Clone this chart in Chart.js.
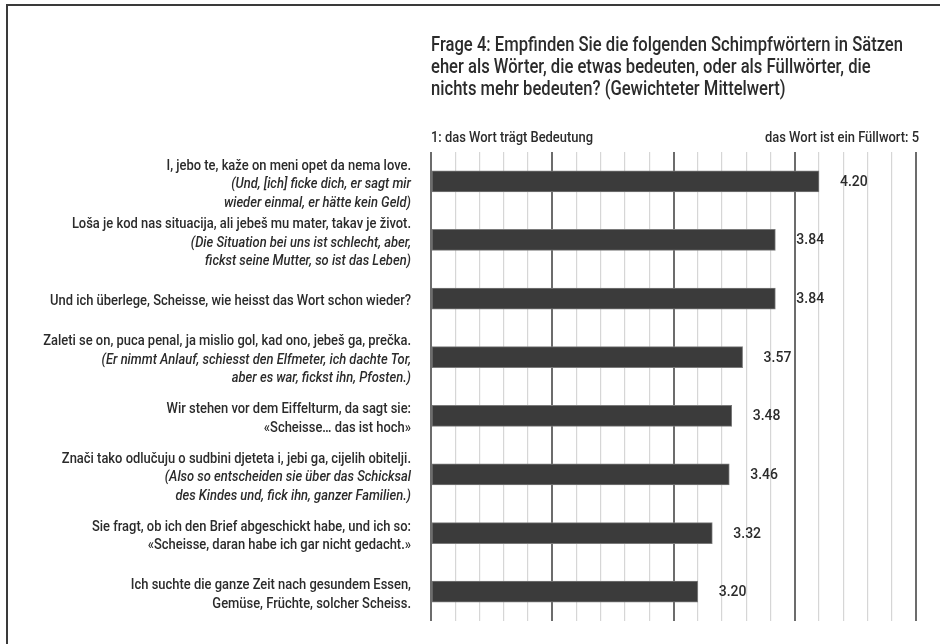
<!DOCTYPE html>
<html lang="de">
<head>
<meta charset="utf-8">
<title>Frage 4 – Schimpfwörter</title>
<script src="https://cdn.jsdelivr.net/npm/chart.js@4.4.1/dist/chart.umd.min.js"></script>
<style>
    html, body { margin: 0; padding: 0; background: #ffffff; }
    #wrap { position: relative; width: 940px; height: 644px; overflow: hidden; }
    #frame {
        position: absolute; left: 6px; top: 4px; right: -10px; bottom: -10px;
        border-top: 2px solid #3a3a3a; border-left: 2px solid #3a3a3a;
        pointer-events: none;
    }
</style>
</head>
<body>
<div id="wrap">
    <canvas id="schimpfChart" width="940" height="644"></canvas>
    <div id="frame"></div>
</div>
<script>
// Sentences (regular) and their German translations (italic), one entry per bar
const originalLines = [
    ['I, jebo te, kaže on meni opet da nema love.'],
    ['Loša je kod nas situacija, ali jebeš mu mater, takav je život.'],
    ['Und ich überlege, Scheisse, wie heisst das Wort schon wieder?'],
    ['Zaleti se on, puca penal, ja mislio gol, kad ono, jebeš ga, prečka.'],
    ['Wir stehen vor dem Eiffelturm, da sagt sie:', '«Scheisse… das ist hoch»'],
    ['Znači tako odlučuju o sudbini djeteta i, jebi ga, cijelih obitelji.'],
    ['Sie fragt, ob ich den Brief abgeschickt habe, und ich so:', '«Scheisse, daran habe ich gar nicht gedacht.»'],
    ['Ich suchte die ganze Zeit nach gesundem Essen,', 'Gemüse, Früchte, solcher Scheiss.']
];
const translationLines = [
    ['(Und, [ich] ficke dich, er sagt mir', 'wieder einmal, er hätte kein Geld)'],
    ['(Die Situation bei uns ist schlecht, aber,', 'fickst seine Mutter, so ist das Leben)'],
    [],
    ['(Er nimmt Anlauf, schiesst den Elfmeter, ich dachte Tor,', 'aber es war, fickst ihn, Pfosten.)'],
    [],
    ['(Also so entscheiden sie über das Schicksal', 'des Kindes und, fick ihn, ganzer Familien.)'],
    [],
    []
];
const categories = originalLines.map(lines => lines[0]);
const meanValues = [4.20, 3.84, 3.84, 3.57, 3.48, 3.46, 3.32, 3.20];

const titleLines = [
    'Frage 4: Empfinden Sie die folgenden Schimpfwörtern in Sätzen',
    'eher als Wörter, die etwas bedeuten, oder als Füllwörter, die',
    'nichts mehr bedeuten? (Gewichteter Mittelwert)'
];
const scaleMin = 1;
const scaleMax = 5;
const scaleStep = 0.2;
const lowEndLabel = '1: das Wort trägt Bedeutung';
const highEndLabel = 'das Wort ist ein Füllwort: 5';

const FACE = 'Roboto, "Liberation Sans", sans-serif';
const TEXT_COLOR = '#2b2b2b';

function isWholeNumber(v) {
    return Math.abs(v - Math.round(v)) < 1e-6;
}

// Roboto squeezed horizontally, used as a condensed face.
// The squeeze is chosen so a reference line ends up at a given width.
function squeezeFor(ctx, font, sample, targetWidth) {
    ctx.save();
    ctx.font = font;
    const w = ctx.measureText(sample).width;
    ctx.restore();
    return targetWidth / w;
}

function drawSqueezed(ctx, text, x, y, align, squeeze) {
    const w = ctx.measureText(text).width * squeeze;
    const left = align === 'right' ? x - w : x;
    ctx.save();
    ctx.translate(left, y);
    ctx.scale(squeeze, 1);
    ctx.textAlign = 'left';
    ctx.fillText(text, 0, 0);
    ctx.restore();
}

// Title, scale end labels, multi-line category labels and value labels
const textPlugin = {
    id: 'textPlugin',
    afterDatasetsDraw(chart) {
        const ctx = chart.ctx;
        const area = chart.chartArea;
        const yScale = chart.scales.y;
        const meta = chart.getDatasetMeta(0);

        const titleFont = '500 20px ' + FACE;
        const labelFont = '500 15px ' + FACE;
        const titleSqueeze = squeezeFor(ctx, titleFont, titleLines[0], 472);
        const labelSqueeze = squeezeFor(ctx, labelFont, categories[2], 361);

        ctx.save();
        ctx.fillStyle = TEXT_COLOR;

        // title
        ctx.font = titleFont;
        ctx.textBaseline = 'alphabetic';
        titleLines.forEach((line, i) => {
            drawSqueezed(ctx, line, area.left, 51 + i * 22, 'left', titleSqueeze);
        });

        // scale end captions
        ctx.font = labelFont;
        drawSqueezed(ctx, lowEndLabel, area.left, 142, 'left', labelSqueeze);
        drawSqueezed(ctx, highEndLabel, area.right + 3, 142, 'right', labelSqueeze);

        // category labels: original sentence regular, translation italic
        const lineHeight = 18.5;
        ctx.textBaseline = 'middle';
        categories.forEach((cat, i) => {
            const lines = originalLines[i].map(t => ({ text: t, italic: false }))
                .concat(translationLines[i].map(t => ({ text: t, italic: true })));
            const yCenter = yScale.getPixelForValue(i) + 3;
            const yStart = yCenter - (lines.length - 1) * lineHeight / 2;
            lines.forEach((ln, j) => {
                ctx.font = (ln.italic ? 'italic ' : '') + labelFont;
                drawSqueezed(ctx, ln.text, area.left - 20, yStart + j * lineHeight, 'right', labelSqueeze);
            });
        });

        // values next to the bars
        ctx.font = '500 14px ' + FACE;
        ctx.textAlign = 'left';
        meta.data.forEach((bar, i) => {
            ctx.fillText(meanValues[i].toFixed(2), bar.x + 21, bar.y + 1);
        });

        ctx.restore();
    }
};

const ctx = document.getElementById('schimpfChart').getContext('2d');
const schimpfChart = new Chart(ctx, {
    type: 'bar',
    data: {
        labels: categories,
        datasets: [{
            data: meanValues,
            base: scaleMin,
            backgroundColor: '#3b3b3b',
            borderColor: '#7a7a7a',
            borderWidth: 1,
            borderSkipped: false,
            barThickness: 21
        }]
    },
    options: {
        indexAxis: 'y',
        responsive: false,
        animation: false,
        layout: {
            padding: { left: 431, right: 24, top: 152, bottom: 23 }
        },
        plugins: {
            legend: { display: false },
            tooltip: { enabled: false },
            title: { display: false }
        },
        scales: {
            x: {
                min: scaleMin,
                max: scaleMax,
                border: { display: false },
                ticks: { display: false, stepSize: scaleStep },
                grid: {
                    drawTicks: false,
                    color: c => isWholeNumber(c.tick.value) ? '#6c6c6c' : '#d6d6d6',
                    lineWidth: c => isWholeNumber(c.tick.value) ? 2 : 1.2
                }
            },
            y: {
                display: false
            }
        }
    },
    plugins: [textPlugin]
});
</script>
</body>
</html>
